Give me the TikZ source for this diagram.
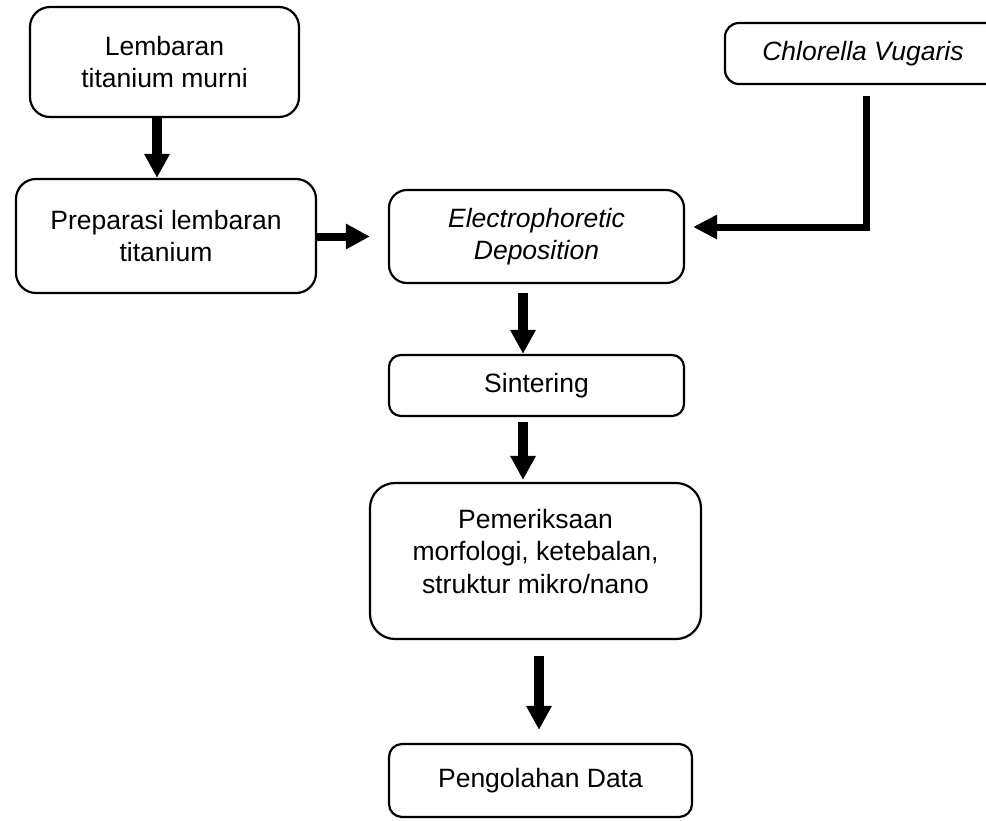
\documentclass[tikz,border=0pt]{standalone}
\usepackage{fontspec}
\setmainfont{Liberation Sans}
\usetikzlibrary{arrows.meta}
\tikzset{
  flowbox/.style={draw, line width=2.2pt, align=center, inner sep=0pt,
    font=\fontsize{26.5}{32.5}\selectfont},
  bigarrow/.style={line width=10pt, -{Triangle[width=24pt,length=24pt]}},
}
\begin{document}
\begin{tikzpicture}[x=1pt,y=-1pt]
\useasboundingbox (0,0) rectangle (986,820);
\node[flowbox, minimum width=269pt, minimum height=110pt, rounded corners=20pt] (box1) at (164.5,62) {Lembaran\\titanium murni};
\node[flowbox, minimum width=300pt, minimum height=114pt, rounded corners=20pt] (box2) at (166,236) {Preparasi lembaran\\titanium};
\node[flowbox, minimum width=295pt, minimum height=93pt, rounded corners=18pt] (epd) at (536.5,236.5) {\itshape Electrophoretic\\\itshape Deposition};
\node[flowbox, minimum width=276pt, minimum height=61pt, rounded corners=14pt] (chl) at (863,53.5) {\itshape Chlorella Vugaris};
\node[flowbox, minimum width=295pt, minimum height=61pt, rounded corners=12pt] (sint) at (536.5,385.5) {Sintering};
\node[flowbox, minimum width=331pt, minimum height=156pt, rounded corners=25pt, text depth=20pt] (pem) at (535.5,561) {Pemeriksaan\\morfologi, ketebalan,\\struktur mikro/nano};
\node[flowbox, minimum width=303pt, minimum height=73pt, rounded corners=13pt] (peng) at (540.5,780.5) {Pengolahan Data};

\draw[bigarrow] ([xshift=-7.5pt]box1.south) -- ([xshift=-9pt]box2.north);
\draw[bigarrow, line width=8pt] (box2.east |- epd.west) -- ([xshift=-18pt]epd.west);
\draw[line width=7pt, -{Triangle[width=23pt,length=24pt]}] ([xshift=3pt,yshift=-11pt]chl.south) |- ([xshift=8pt,yshift=9.5pt]epd.east);
\draw[bigarrow] ([xshift=-13.5pt,yshift=-9pt]epd.south) -- ([xshift=-13.5pt]sint.north);
\draw[bigarrow] ([xshift=-13.5pt,yshift=-5pt]sint.south) -- ([xshift=-12.5pt,yshift=2pt]pem.north);
\draw[bigarrow] ([xshift=3.5pt,yshift=-16pt]pem.south) -- ([xshift=-1.5pt,yshift=13pt]peng.north);
\end{tikzpicture}
\end{document}
